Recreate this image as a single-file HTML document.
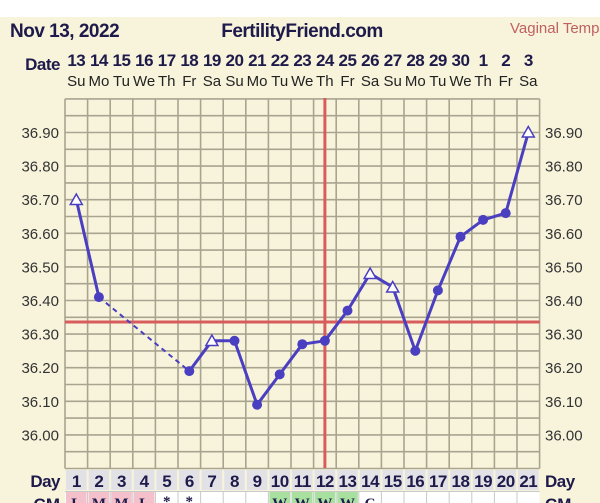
<!DOCTYPE html>
<html><head><meta charset="utf-8"><style>
html,body{margin:0;padding:0;background:#fff;}
svg{display:block;font-family:"Liberation Sans",sans-serif;}
</style></head><body>
<svg width="600" height="503" viewBox="0 0 600 503" xmlns="http://www.w3.org/2000/svg">
<rect x="0" y="0" width="600" height="503" fill="#fff"/>
<rect x="0" y="17" width="600" height="486" fill="#f8f4dc"/>
<text x="10" y="37" font-size="19" font-weight="bold" fill="#1e1a4a" letter-spacing="-0.5">Nov 13, 2022</text>
<text x="302" y="37" font-size="19" font-weight="bold" fill="#1e1a4a" text-anchor="middle" letter-spacing="-0.5">FertilityFriend.com</text>
<text x="510" y="33" font-size="15" fill="#c06060">Vaginal Temp</text>
<text x="60" y="70" font-size="17" font-weight="bold" fill="#1e1a4a" text-anchor="end" letter-spacing="-0.5">Date</text>
<g font-size="17" font-weight="bold" fill="#1e1a4a" text-anchor="middle" letter-spacing="-0.5">
<text x="76.3" y="66">13</text><text x="98.9" y="66">14</text><text x="121.5" y="66">15</text><text x="144.1" y="66">16</text><text x="166.7" y="66">17</text><text x="189.3" y="66">18</text><text x="211.9" y="66">19</text><text x="234.5" y="66">20</text><text x="257.1" y="66">21</text><text x="279.7" y="66">22</text><text x="302.3" y="66">23</text><text x="324.9" y="66">24</text><text x="347.5" y="66">25</text><text x="370.1" y="66">26</text><text x="392.7" y="66">27</text><text x="415.3" y="66">28</text><text x="437.9" y="66">29</text><text x="460.5" y="66">30</text><text x="483.1" y="66">1</text><text x="505.7" y="66">2</text><text x="528.3" y="66">3</text>
</g>
<g font-size="15" fill="#222" text-anchor="middle">
<text x="76.3" y="86">Su</text><text x="98.9" y="86">Mo</text><text x="121.5" y="86">Tu</text><text x="144.1" y="86">We</text><text x="166.7" y="86">Th</text><text x="189.3" y="86">Fr</text><text x="211.9" y="86">Sa</text><text x="234.5" y="86">Su</text><text x="257.1" y="86">Mo</text><text x="279.7" y="86">Tu</text><text x="302.3" y="86">We</text><text x="324.9" y="86">Th</text><text x="347.5" y="86">Fr</text><text x="370.1" y="86">Sa</text><text x="392.7" y="86">Su</text><text x="415.3" y="86">Mo</text><text x="437.9" y="86">Tu</text><text x="460.5" y="86">We</text><text x="483.1" y="86">Th</text><text x="505.7" y="86">Fr</text><text x="528.3" y="86">Sa</text>
</g>
<g stroke="#a8a490" stroke-width="1.6" fill="none">
<path d="M65 98.9V468.5M87.6 98.9V468.5M110.2 98.9V468.5M132.8 98.9V468.5M155.4 98.9V468.5M178 98.9V468.5M200.6 98.9V468.5M223.2 98.9V468.5M245.8 98.9V468.5M268.4 98.9V468.5M291 98.9V468.5M313.6 98.9V468.5M336.2 98.9V468.5M358.8 98.9V468.5M381.4 98.9V468.5M404 98.9V468.5M426.6 98.9V468.5M449.2 98.9V468.5M471.8 98.9V468.5M494.4 98.9V468.5M517 98.9V468.5M539.6 98.9V468.5"/>
<path d="M65 98.9H539.6M65 115.7H539.6M65 132.5H539.6M65 149.3H539.6M65 166.1H539.6M65 182.9H539.6M65 199.7H539.6M65 216.5H539.6M65 233.3H539.6M65 250.1H539.6M65 266.9H539.6M65 283.7H539.6M65 300.5H539.6M65 317.3H539.6M65 334.1H539.6M65 350.9H539.6M65 367.7H539.6M65 384.5H539.6M65 401.3H539.6M65 418.1H539.6M65 434.9H539.6M65 451.7H539.6M65 468.5H539.6"/>
</g>
<g font-size="15" fill="#333">
<g text-anchor="end">
<text x="59" y="138">36.90</text><text x="59" y="171.6">36.80</text><text x="59" y="205.2">36.70</text><text x="59" y="238.8">36.60</text><text x="59" y="272.4">36.50</text><text x="59" y="306">36.40</text><text x="59" y="339.6">36.30</text><text x="59" y="373.2">36.20</text><text x="59" y="406.8">36.10</text><text x="59" y="440.4">36.00</text>
</g>
<g>
<text x="545" y="138">36.90</text><text x="545" y="171.6">36.80</text><text x="545" y="205.2">36.70</text><text x="545" y="238.8">36.60</text><text x="545" y="272.4">36.50</text><text x="545" y="306">36.40</text><text x="545" y="339.6">36.30</text><text x="545" y="373.2">36.20</text><text x="545" y="406.8">36.10</text><text x="545" y="440.4">36.00</text>
</g>
</g>
<line x1="65" y1="322" x2="539.6" y2="322" stroke="#d95c5c" stroke-width="3"/>
<line x1="324.9" y1="98" x2="324.9" y2="468" stroke="#d95c5c" stroke-width="3"/>
<g stroke="#4a3fc0" stroke-width="3" fill="none" stroke-linejoin="round">
<polyline points="76.3,199.7 98.9,297.1"/>
<line x1="98.9" y1="297.1" x2="189.3" y2="371.1" stroke-width="2" stroke-dasharray="5,4"/>
<polyline points="189.3,371.1 211.9,340.8 234.5,340.8 257.1,404.7 279.7,374.4 302.3,344.2 324.9,340.8 347.5,310.6 370.1,273.6 392.7,287.1 415.3,350.9 437.9,290.4 460.5,236.7 483.1,219.9 505.7,213.1 528.3,132.5"/>
</g>
<g fill="#4a3fc0">
<circle cx="98.9" cy="297.1" r="5"/><circle cx="189.3" cy="371.1" r="5"/><circle cx="234.5" cy="340.8" r="5"/><circle cx="257.1" cy="404.7" r="5"/><circle cx="279.7" cy="374.4" r="5"/><circle cx="302.3" cy="344.2" r="5"/><circle cx="324.9" cy="340.8" r="5"/><circle cx="347.5" cy="310.6" r="5"/><circle cx="415.3" cy="350.9" r="5"/><circle cx="437.9" cy="290.4" r="5"/><circle cx="460.5" cy="236.7" r="5"/><circle cx="483.1" cy="219.9" r="5"/><circle cx="505.7" cy="213.1" r="5"/>
</g>
<g fill="#fff" stroke="#4a3fc0" stroke-width="1.5">
<polygon points="76.3,194 70.3,204.5 82.3,204.5"/>
<polygon points="211.9,335 205.9,345.5 217.9,345.5"/>
<polygon points="370.1,268 364.1,278.5 376.1,278.5"/>
<polygon points="392.7,281.5 386.7,292 398.7,292"/>
<polygon points="528.3,126.5 522.3,137 534.3,137"/>
</g>
<text x="60" y="487" font-size="17" font-weight="bold" fill="#1e1a4a" text-anchor="end" letter-spacing="-0.5">Day</text>
<text x="545" y="487" font-size="17" font-weight="bold" fill="#1e1a4a" letter-spacing="-0.5">Day</text>
<g fill="#e2e2e6">
<rect x="66" y="470" width="20.6" height="20"/><rect x="88.6" y="470" width="20.6" height="20"/><rect x="111.2" y="470" width="20.6" height="20"/><rect x="133.8" y="470" width="20.6" height="20"/><rect x="156.4" y="470" width="20.6" height="20"/><rect x="179" y="470" width="20.6" height="20"/><rect x="201.6" y="470" width="20.6" height="20"/><rect x="224.2" y="470" width="20.6" height="20"/><rect x="246.8" y="470" width="20.6" height="20"/><rect x="269.4" y="470" width="20.6" height="20"/><rect x="292" y="470" width="20.6" height="20"/><rect x="314.6" y="470" width="20.6" height="20"/><rect x="337.2" y="470" width="20.6" height="20"/><rect x="359.8" y="470" width="20.6" height="20"/><rect x="382.4" y="470" width="20.6" height="20"/><rect x="405" y="470" width="20.6" height="20"/><rect x="427.6" y="470" width="20.6" height="20"/><rect x="450.2" y="470" width="20.6" height="20"/><rect x="472.8" y="470" width="20.6" height="20"/><rect x="495.4" y="470" width="20.6" height="20"/><rect x="518" y="470" width="20.6" height="20"/>
</g>
<rect x="65" y="491" width="474.6" height="12" fill="#fff"/>
<g fill="#f4c0cc"><rect x="66" y="492" width="20.6" height="11"/><rect x="88.6" y="492" width="20.6" height="11"/><rect x="111.2" y="492" width="20.6" height="11"/><rect x="133.8" y="492" width="20.6" height="11"/></g>
<g fill="#a8e0a0"><rect x="269.4" y="492" width="20.6" height="11"/><rect x="292" y="492" width="20.6" height="11"/><rect x="314.6" y="492" width="20.6" height="11"/><rect x="337.2" y="492" width="20.6" height="11"/></g>
<g stroke="#c8c8c8" stroke-width="1"><path d="M65 491.5H539.6M87.6 491V503M110.2 491V503M132.8 491V503M155.4 491V503M178 491V503M200.6 491V503M223.2 491V503M245.8 491V503M268.4 491V503M291 491V503M313.6 491V503M336.2 491V503M358.8 491V503M381.4 491V503M404 491V503M426.6 491V503M449.2 491V503M471.8 491V503M494.4 491V503M517 491V503"/></g>
<g font-size="17" font-weight="bold" fill="#1e1a4a" text-anchor="middle" letter-spacing="-0.5">
<text x="76.3" y="487">1</text><text x="98.9" y="487">2</text><text x="121.5" y="487">3</text><text x="144.1" y="487">4</text><text x="166.7" y="487">5</text><text x="189.3" y="487">6</text><text x="211.9" y="487">7</text><text x="234.5" y="487">8</text><text x="257.1" y="487">9</text><text x="279.7" y="487">10</text><text x="302.3" y="487">11</text><text x="324.9" y="487">12</text><text x="347.5" y="487">13</text><text x="370.1" y="487">14</text><text x="392.7" y="487">15</text><text x="415.3" y="487">16</text><text x="437.9" y="487">17</text><text x="460.5" y="487">18</text><text x="483.1" y="487">19</text><text x="505.7" y="487">20</text><text x="528.3" y="487">21</text>
</g>
<g font-size="15" font-weight="bold" fill="#1e1a4a" text-anchor="middle" font-family="Liberation Serif,serif">
<text x="76.3" y="508">L</text><text x="98.9" y="508">M</text><text x="121.5" y="508">M</text><text x="144.1" y="508">L</text><text x="166.7" y="506">*</text><text x="189.3" y="506">*</text><text x="279.7" y="508">W</text><text x="302.3" y="508">W</text><text x="324.9" y="508">W</text><text x="347.5" y="508">W</text><text x="370.1" y="508">C</text>
</g>
<text x="60" y="510" font-size="17" font-weight="bold" fill="#1e1a4a" text-anchor="end">CM</text>
<text x="545" y="510" font-size="17" font-weight="bold" fill="#1e1a4a">CM</text>
</svg>
</body></html>
